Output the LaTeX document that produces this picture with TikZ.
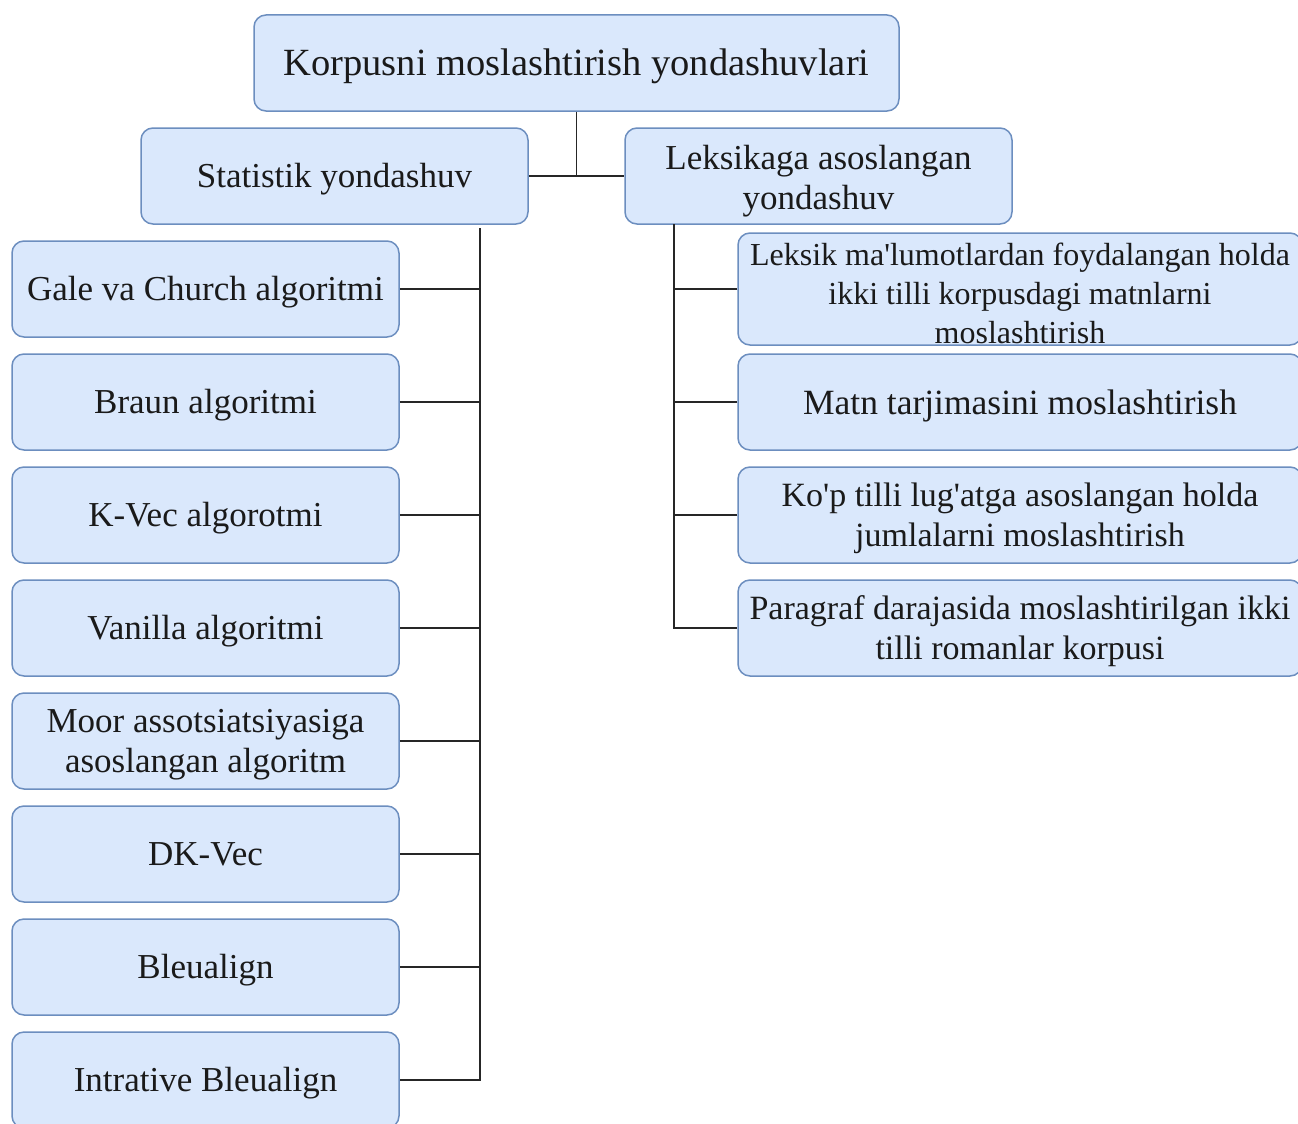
\documentclass[tikz,border=0pt]{standalone}
\usepackage{fontspec}
\setmainfont{Liberation Serif}[Ligatures=TeXOff]
\definecolor{boxfill}{HTML}{DAE8FC}
\definecolor{boxline}{HTML}{6C8EBF}
\definecolor{txt}{HTML}{1A1A1A}
\newcommand{\myst}{\rule[-0.21em]{0pt}{1.1em}}
\newcommand{\mytall}[1]{\rule[-0.21em]{0pt}{\dimexpr1.1em+#1\relax}}
\begin{document}
\begin{tikzpicture}[x=1pt,y=-1pt,
  box/.style={draw=boxline,fill=boxfill,line width=1.5pt,rounded corners=12pt,
    align=center,inner sep=0pt,text=txt,minimum height=96pt},
  lbox/.style={box,minimum width=387pt,font=\fontsize{35}{40}\selectfont},
  rbox/.style={box,minimum width=564pt,font=\fontsize{34}{40}\selectfont},
  conn/.style={line width=1.8pt,black!85}]
\useasboundingbox (0,0) rectangle (1298,1124);
\clip (0,0) rectangle (1298,1124);
% top
\node[box,minimum width=645pt,font=\fontsize{38.5}{44}\selectfont] (top) at (576.5,63) {\myst Korpusni moslashtirish yondashuvlari\myst};
\node[lbox] (stat) at (334.5,176) {\myst Statistik yondashuv\myst};
\node[lbox,font=\fontsize{35}{38}\selectfont] (leks) at (818.5,176) {\mytall{4pt}Leksikaga asoslangan\\yondashuv\myst};
% left leaves
\node[lbox] (l1) at (205.5,289) {\myst Gale va Church algoritmi\myst};
\node[lbox] (l2) at (205.5,402) {\myst Braun algoritmi\myst};
\node[lbox] (l3) at (205.5,515) {\myst K-Vec algorotmi\myst};
\node[lbox] (l4) at (205.5,628) {\myst Vanilla algoritmi\myst};
\node[lbox] (l5) at (205.5,741) {\myst Moor assotsiatsiyasiga\\asoslangan algoritm\myst};
\node[lbox] (l6) at (205.5,854) {\myst DK-Vec\myst};
\node[lbox] (l7) at (205.5,967) {\myst Bleualign\myst};
\node[lbox] (l8) at (205.5,1080) {\myst Intrative Bleualign\myst};
% right leaves
\node[rbox,minimum height=112pt,font=\fontsize{32}{39}\selectfont] (r1) at (1020,289) {\rule{0pt}{0.95em}Leksik ma'lumotlardan foydalangan holda\\ikki tilli korpusdagi matnlarni\\moslashtirish};
\node[rbox,font=\fontsize{35.5}{40}\selectfont] (r2) at (1020,402) {\myst Matn tarjimasini moslashtirish\myst};
\node[rbox] (r3) at (1020,515) {\myst Ko'p tilli lug'atga asoslangan holda\\jumlalarni moslashtirish\myst};
\node[rbox] (r4) at (1020,628) {\myst Paragraf darajasida moslashtirilgan ikki\\tilli romanlar korpusi\myst};
% connectors
\draw[conn] (top.south) -- (top.south |- stat.east);
\draw[conn] (stat.east) -- (leks.west);
\coordinate (lt) at (480,228);
\coordinate (rt) at (674,224);
\draw[conn] (lt) |- (l8.east);
\foreach \n in {l1,l2,l3,l4,l5,l6,l7}{\draw[conn] (\n.east) -- (\n.east -| lt);}
\draw[conn] (rt) |- (r4.west);
\foreach \n in {r1,r2,r3}{\draw[conn] (\n.west) -- (\n.west -| rt);}
\end{tikzpicture}
\end{document}
